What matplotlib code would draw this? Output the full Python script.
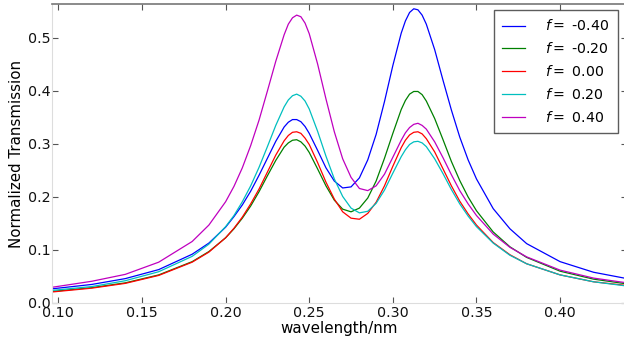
import matplotlib
matplotlib.use("Agg")
import matplotlib.pyplot as plt

wavelength = [0.097, 0.12, 0.14, 0.16, 0.18, 0.19, 0.200, 0.205, 0.210, 0.215, 0.220, 0.225,
              0.230, 0.235, 0.2375, 0.240, 0.2425, 0.245, 0.2475, 0.250, 0.255, 0.260, 0.265,
              0.270, 0.275, 0.280, 0.285, 0.290, 0.295, 0.300, 0.305, 0.3075, 0.310, 0.3125,
              0.315, 0.3175, 0.320, 0.325, 0.330, 0.335, 0.340, 0.345, 0.350, 0.36, 0.37,
              0.38, 0.40, 0.42, 0.44]

t_m040 = [0.027, 0.035, 0.046, 0.063, 0.092, 0.113, 0.143, 0.163, 0.185, 0.211, 0.241, 0.273,
          0.305, 0.332, 0.341, 0.346, 0.346, 0.342, 0.333, 0.320, 0.288, 0.255, 0.230,
          0.217, 0.219, 0.236, 0.270, 0.318, 0.380, 0.448, 0.509, 0.532, 0.548, 0.555,
          0.553, 0.543, 0.526, 0.478, 0.420, 0.364, 0.313, 0.270, 0.234, 0.178, 0.140,
          0.112, 0.078, 0.058, 0.046]
t_m020 = [0.022, 0.029, 0.038, 0.053, 0.078, 0.097, 0.123, 0.140, 0.160, 0.183, 0.210, 0.240,
          0.269, 0.294, 0.302, 0.307, 0.308, 0.304, 0.296, 0.284, 0.253, 0.221, 0.194,
          0.177, 0.172, 0.179, 0.198, 0.230, 0.273, 0.320, 0.365, 0.382, 0.394, 0.399,
          0.399, 0.393, 0.381, 0.348, 0.308, 0.267, 0.231, 0.200, 0.174, 0.134, 0.106,
          0.086, 0.060, 0.045, 0.036]
t_000 = [0.021, 0.028, 0.037, 0.052, 0.077, 0.096, 0.123, 0.141, 0.162, 0.187, 0.215, 0.247,
         0.279, 0.306, 0.316, 0.322, 0.323, 0.320, 0.311, 0.299, 0.265, 0.228, 0.196,
         0.172, 0.160, 0.158, 0.169, 0.190, 0.221, 0.258, 0.293, 0.307, 0.317, 0.322,
         0.323, 0.319, 0.310, 0.285, 0.253, 0.221, 0.192, 0.168, 0.147, 0.114, 0.091,
         0.074, 0.053, 0.040, 0.033]
t_020 = [0.024, 0.031, 0.042, 0.059, 0.088, 0.111, 0.144, 0.165, 0.191, 0.221, 0.256, 0.295,
         0.335, 0.370, 0.383, 0.391, 0.394, 0.390, 0.381, 0.366, 0.324, 0.277, 0.234,
         0.201, 0.179, 0.170, 0.173, 0.188, 0.213, 0.245, 0.276, 0.289, 0.299, 0.304,
         0.305, 0.302, 0.295, 0.272, 0.244, 0.214, 0.187, 0.164, 0.144, 0.113, 0.090,
         0.074, 0.053, 0.040, 0.032]
t_040 = [0.030, 0.041, 0.054, 0.077, 0.116, 0.147, 0.191, 0.220, 0.255, 0.297, 0.345, 0.400,
         0.456, 0.506, 0.526, 0.538, 0.543, 0.540, 0.528, 0.508, 0.451, 0.385, 0.323,
         0.272, 0.237, 0.216, 0.212, 0.221, 0.243, 0.275, 0.307, 0.321, 0.331, 0.337,
         0.339, 0.335, 0.328, 0.304, 0.274, 0.242, 0.212, 0.187, 0.165, 0.130, 0.105,
         0.087, 0.062, 0.047, 0.038]

series = [t_m040, t_m020, t_000, t_020, t_040]
labels = [r"$f=$ -0.40", r"$f=$ -0.20", r"$f=$ 0.00", r"$f=$ 0.20", r"$f=$ 0.40"]
colors = ["#0000ff", "#008000", "#ff0000", "#00bfbf", "#bf00bf"]

plt.rcParams["font.family"] = ["DejaVu Sans"]
plt.rcParams["mathtext.fontset"] = "dejavusans"

fig = plt.figure(figsize=(6.24, 3.43), dpi=100)
ax = fig.add_axes([52 / 624, 40 / 343, 575 / 624, 299 / 343])

for y, lab, c in zip(series, labels, colors):
    ax.plot(wavelength, y, color=c, lw=0.9, label=lab)

ax.set_xlim(0.0962, 0.44)
ax.set_ylim(0.0, 0.564)
ax.set_xticks([0.10, 0.15, 0.20, 0.25, 0.30, 0.35, 0.40])
ax.set_xticklabels(["0.10", "0.15", "0.20", "0.25", "0.30", "0.35", "0.40"])
ax.set_yticks([0.0, 0.1, 0.2, 0.3, 0.4, 0.5])
ax.set_yticklabels(["0.0", "0.1", "0.2", "0.3", "0.4", "0.5"])
ax.tick_params(direction="in", length=4, width=0.8, colors="#555555",
               labelcolor="#111111", labelsize=10.3, pad=2, top=True, right=True)
ax.tick_params(axis="y", pad=1)

for side in ["left", "bottom"]:
    ax.spines[side].set_color("#dddddd")
ax.spines["top"].set_color("#777777")
ax.spines["top"].set_linewidth(1.2)
ax.spines["right"].set_color("#777777")

ax.set_xlabel("wavelength/nm", fontsize=10.9, labelpad=1)
ax.set_ylabel("Normalized Transmission", fontsize=10.8, labelpad=3)

leg = ax.legend(loc="upper right", bbox_to_anchor=(0.984, 0.980), borderaxespad=0,
                fontsize=10.2, frameon=True, fancybox=False, handlelength=1.6,
                handletextpad=1.4, labelspacing=0.55, borderpad=0.6)
leg.get_frame().set_edgecolor("#333333")
leg.get_frame().set_linewidth(1.0)

fig.savefig("out.png", dpi=100)
